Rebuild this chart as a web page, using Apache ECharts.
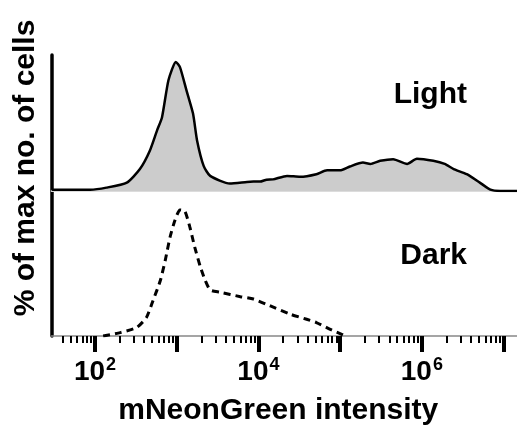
<!DOCTYPE html>
<html>
<head>
<meta charset="utf-8">
<script src="https://cdn.jsdelivr.net/npm/echarts@6/dist/echarts.min.js"></script>
<style>
html,body{margin:0;padding:0;background:#fff;}
#chart{width:517px;height:428px;}
</style>
</head>
<body>
<div id="chart"></div>
<script>
// x values are log10(mNeonGreen intensity), y is % of max no. of cells
var lightX = [1.47, 1.94, 2.14, 2.39, 2.55, 2.67, 2.76, 2.82, 2.90, 2.99, 3.04, 3.12, 3.20, 3.25, 3.33, 3.41,
	3.65, 3.86, 3.94, 4.02, 4.10, 4.18, 4.35, 4.51, 4.71, 4.84, 5.00, 5.12, 5.28, 5.37, 5.49, 5.65,
	5.82, 5.94, 6.14, 6.28, 6.39, 6.55, 6.71, 6.84, 6.96, 7.165];
var lightY = [1, 1, 2.6, 6.5, 17, 31, 47, 57, 86, 100, 96, 78, 60, 39, 19.5, 11.7,
	5.8, 7, 7.3, 7.3, 8.8, 9, 11.7, 11, 13, 16, 16, 19, 22, 21, 23.4, 24.7,
	21, 25, 23.4, 21, 17, 13, 6.5, 1, 0, 0];
var darkX = [2.10, 2.31, 2.51, 2.63, 2.71, 2.80, 2.86, 2.92, 2.98, 3.04, 3.10, 3.16, 3.22, 3.29, 3.35, 3.41,
	3.53, 3.78, 3.94, 4.14, 4.39, 4.59, 4.71, 4.88, 5.02, 5.06];
var darkY = [0, 2.7, 6.7, 14.7, 28, 44, 60, 78.7, 92, 100, 99, 86.7, 70.7, 54.7, 44, 36.5,
	34.7, 31.2, 29.3, 24, 17.3, 13.3, 10.7, 5.3, 1.3, 0];
var majorTicks = [2, 3, 4, 5, 6, 7];
var labelTicks = [2, 4, 6];
var minorDecades = [1, 2, 3, 4, 5, 6];
var minorMults = [2, 3, 4, 5, 6, 7, 8, 9];

var XMIN = 1.468, XMAX = 7.165;
var FONT = 'Liberation Sans, Arial, Helvetica, sans-serif';

function zip(xs, ys){
	var out = [];
	for(var i=0;i<xs.length;i++){
		out.push([xs[i], ys[i]]);
	}
	return out;
}

var minorTicks = [];
for(var d=0; d<minorDecades.length; d++){
	for(var m=0; m<minorMults.length; m++){
		var v = minorDecades[d] + Math.log10(minorMults[m]);
		if(v > XMIN + 0.02 && v < XMAX) minorTicks.push(v);
	}
}

var chart = echarts.init(document.getElementById('chart'));
var option = {
	animation: false,
	grid: [
		{left: 51.5, right: 0, top: 55, height: 136},
		{left: 51.5, right: 0, top: 191, bottom: 92}
	],
	xAxis: [
		{
			gridIndex: 0, type: 'value', min: XMIN, max: XMAX, position: 'bottom',
			axisLine: {show: true, lineStyle: {color: '#dcdcdc', width: 2}},
			axisTick: {show: false}, axisLabel: {show: false}, splitLine: {show: false}
		},
		{
			gridIndex: 1, type: 'value', min: XMIN, max: XMAX, position: 'bottom',
			axisLine: {show: true, onZero: false, lineStyle: {color: '#888', width: 1.5}},
			axisTick: {show: true, customValues: minorTicks, length: 7, lineStyle: {color: '#000', width: 2}},
			axisLabel: {show: false}, splitLine: {show: false}
		},
		{
			gridIndex: 1, type: 'value', min: XMIN, max: XMAX, position: 'bottom',
			axisLine: {show: false, onZero: false},
			axisTick: {show: true, customValues: majorTicks, length: 16, lineStyle: {color: '#000', width: 4}},
			axisLabel: {
				show: true, customValues: labelTicks, margin: 20,
				formatter: function(v){ return '10{s|' + Math.round(v) + '}'; },
				color: '#000', fontSize: 28, fontWeight: 'bold', fontFamily: FONT,
				rich: {s: {fontSize: 18, fontWeight: 'bold', fontFamily: FONT, color: '#000', padding: [0, 0, 14, 1]}}
			},
			splitLine: {show: false},
			name: 'mNeonGreen intensity', nameLocation: 'middle', nameGap: 60,
			nameTextStyle: {color: '#000', fontSize: 30, fontWeight: 'bold', fontFamily: FONT, padding: [0, 12, 0, 0]}
		}
	],
	yAxis: [
		{
			gridIndex: 0, type: 'value', min: 0, max: 105.4,
			axisLine: {show: true, lineStyle: {color: '#000', width: 3.5}},
			axisTick: {show: false}, axisLabel: {show: false}, splitLine: {show: false}
		},
		{
			gridIndex: 1, type: 'value', min: 0, max: 115,
			axisLine: {show: true, lineStyle: {color: '#000', width: 3.5}},
			axisTick: {show: false}, axisLabel: {show: false}, splitLine: {show: false}
		}
	],
	series: [
		{
			name: 'Light', type: 'line', xAxisIndex: 0, yAxisIndex: 0,
			data: zip(lightX, lightY), showSymbol: false, smooth: 0.2,
			lineStyle: {color: '#000', width: 2.5},
			areaStyle: {color: '#cccccc', opacity: 1}
		},
		{
			name: 'Dark', type: 'line', xAxisIndex: 1, yAxisIndex: 1,
			data: zip(darkX, darkY), showSymbol: false, smooth: 0.2,
			lineStyle: {color: '#000', width: 3, type: [7, 5]}
		}
	],
	graphic: [
		{
			type: 'text', x: 26, y: 168, rotation: Math.PI / 2,
			style: {text: '% of max no. of cells', fill: '#000', font: 'bold 30px ' + FONT, align: 'center', verticalAlign: 'middle'}
		},
		{
			type: 'text', x: 467, y: 95,
			style: {text: 'Light', fill: '#000', font: 'bold 30px ' + FONT, align: 'right', verticalAlign: 'middle'}
		},
		{
			type: 'text', x: 467, y: 256,
			style: {text: 'Dark', fill: '#000', font: 'bold 30px ' + FONT, align: 'right', verticalAlign: 'middle'}
		}
	]
};
chart.setOption(option);
</script>
</body>
</html>
